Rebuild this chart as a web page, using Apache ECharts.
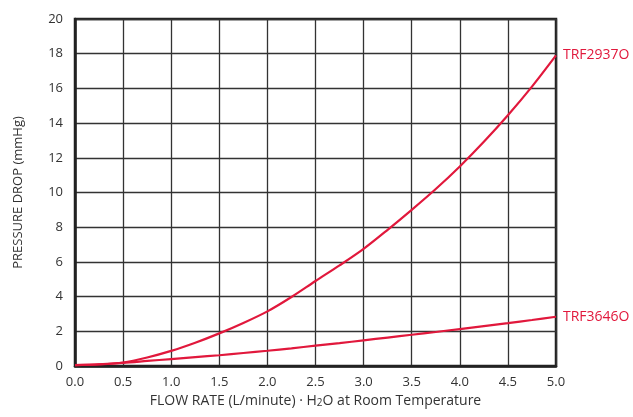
<!DOCTYPE html>
<html>
<head>
<meta charset="utf-8">
<script src="https://cdn.jsdelivr.net/npm/echarts@6/dist/echarts.min.js"></script>
<style>html,body{margin:0;padding:0;background:#fff}#c{width:633px;height:417px}</style>
</head>
<body>
<div id="c"></div>
<script>
var flowRates = [0, 0.25, 0.5, 0.75, 1.0, 1.25, 1.5, 1.75, 2.0, 2.25, 2.5, 2.75, 3.0, 3.25, 3.5, 3.75, 4.0, 4.25, 4.5, 4.75, 5.0];
var trf2937o = [0.05, 0.09, 0.2, 0.49, 0.87, 1.34, 1.88, 2.48, 3.15, 3.98, 4.9, 5.8, 6.75, 7.85, 9.0, 10.2, 11.5, 12.92, 14.45, 16.1, 17.9];
var trf3646o = [0.05, 0.1, 0.18, 0.29, 0.4, 0.51, 0.62, 0.75, 0.88, 1.02, 1.17, 1.32, 1.48, 1.64, 1.8, 1.96, 2.13, 2.3, 2.47, 2.65, 2.84];
var seriesNames = ['TRF2937O', 'TRF3646O'];
var xTitle = 'FLOW RATE (L/minute) · H{sub|2}O at Room Temperature';
var yTitle = 'PRESSURE DROP (mmHg)';

function pairs(xs, ys) { return xs.map(function (x, i) { return [x, ys[i]]; }); }

var FONT = 'Open Sans';
var RED = '#e1183c';
var chart = echarts.init(document.getElementById('c'));
function mk(name, vals) {
  return {
    name: name, type: 'line', data: pairs(flowRates, vals), smooth: 0.3, symbol: 'none',
    lineStyle: { color: RED, width: 2.2 },
    endLabel: { show: true, formatter: name, color: RED, fontFamily: FONT, fontSize: 14, distance: 7 },
    z: 5
  };
}
chart.setOption({
  animation: false,
  grid: { left: 75, right: 77, top: 19, bottom: 51, show: true, borderColor: '#222', borderWidth: 2.5, backgroundColor: 'transparent' },
  xAxis: {
    type: 'value', min: 0, max: 5, interval: 0.5,
    name: xTitle, nameLocation: 'middle', nameGap: 27,
    nameTextStyle: { color: '#333', fontFamily: FONT, fontSize: 14, rich: { sub: { fontSize: 10, verticalAlign: 'bottom', padding: [4, 0, 0, 0], color: '#333', fontFamily: FONT } } },
    axisLine: { show: true, lineStyle: { color: '#222', width: 2.5 } },
    axisTick: { show: false },
    axisLabel: { color: '#333', fontFamily: FONT, fontSize: 13, margin: 10, formatter: function (v) { return v.toFixed(1); } },
    splitLine: { show: true, lineStyle: { color: '#333', width: 1.3 } }
  },
  yAxis: {
    type: 'value', min: 0, max: 20, interval: 2,
    name: yTitle, nameLocation: 'middle', nameGap: 50, nameRotate: 90,
    nameTextStyle: { color: '#333', fontFamily: FONT, fontSize: 13 },
    axisLine: { show: true, lineStyle: { color: '#222', width: 2.5 } },
    axisTick: { show: false },
    axisLabel: { color: '#333', fontFamily: FONT, fontSize: 13, margin: 12 },
    splitLine: { show: true, lineStyle: { color: '#333', width: 1.3 } }
  },
  series: [mk(seriesNames[0], trf2937o), mk(seriesNames[1], trf3646o)]
});
</script>
</body>
</html>
